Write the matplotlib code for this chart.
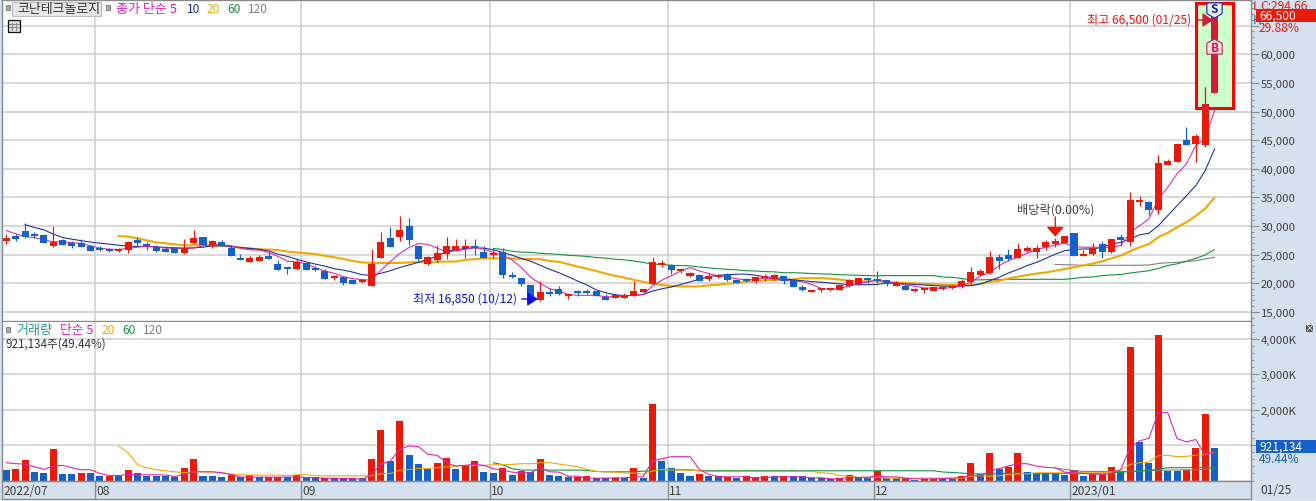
import matplotlib
matplotlib.use('Agg')
import matplotlib.pyplot as plt
from matplotlib.patches import Rectangle
from matplotlib.ticker import FixedLocator, MultipleLocator, FuncFormatter

plt.rcParams['font.family'] = ['Noto Sans CJK KR', 'DejaVu Sans']

# daily candles, 2022/07 - 2023/01/25
opens = [27450, 28050, 29050, 28500, 28400, 26500, 27500, 27000, 27000, 26600,
         26150, 26050, 25750, 25850, 27600, 26800, 26400, 26050, 26100, 25300,
         27000, 28000, 26750, 27300, 26200, 24500, 23750, 23900, 24750, 23350,
         22800, 22500, 23500, 22650, 22100, 20950, 21050, 20550, 20250, 19550,
         24500, 27900, 28150, 30000, 26500, 23400, 24050, 25100, 25800, 26150,
         26450, 25450, 25050, 25450, 21300, 21000, 19650, 17000, 18400, 19050,
         17850, 18600, 18600, 18600, 17650, 17450, 17450, 17800, 18400, 19900,
         23300, 23150, 22150, 21300, 21400, 20750, 21100, 21600, 20550, 20800,
         20400, 20950, 20750, 21350, 20650, 19350, 18550, 18900, 18850, 18850,
         19450, 19800, 21000, 20700, 20650, 19600, 19600, 18600, 18850, 18700,
         19150, 19150, 19550, 20300, 21400, 21800, 24550, 24900, 24350, 25650,
         25400, 26350, 26850, 27100, 28750, 24750, 25100, 26800, 25450, 28050,
         27300, 34250, 34200, 32850, 40700, 41200, 44950, 44400, 44150, 53250]
highs = [28600, 28600, 30450, 28900, 28600, 29950, 27700, 27450, 27700, 26750,
         26450, 26200, 26150, 27450, 28000, 27300, 26650, 26550, 26200, 27700,
         29300, 28000, 27600, 27550, 26650, 25100, 24800, 24900, 25400, 24050,
         22800, 24400, 23500, 23050, 22550, 21400, 21050, 20550, 20700, 25950,
         29000, 29850, 31700, 31400, 26500, 24700, 26650, 28000, 27700, 27700,
         27700, 26550, 25950, 26250, 22050, 21000, 19650, 20350, 19100, 19450,
         18250, 18850, 19050, 18700, 18150, 18150, 18350, 20350, 18950, 24550,
         24100, 23300, 22750, 22050, 21600, 21750, 21600, 21750, 20800, 20950,
         21150, 21600, 21600, 21350, 20650, 19650, 18850, 19050, 19300, 19750,
         20800, 21000, 21000, 22150, 20650, 20350, 19900, 19150, 19250, 19350,
         19600, 19700, 20750, 22900, 22500, 25650, 25200, 26000, 27050, 26600,
         26700, 27550, 27850, 28250, 28750, 25900, 27050, 27350, 27750, 28650,
         36000, 35300, 34450, 42400, 41700, 44350, 47300, 46050, 54300, 66500]
lows = [26850, 27450, 27900, 27850, 27000, 26300, 26650, 26150, 26400, 25600,
        25600, 25500, 25400, 25250, 26450, 25800, 25550, 25500, 25300, 25100,
        26800, 26750, 26150, 26450, 24800, 24000, 23700, 23900, 24200, 22350,
        21600, 22400, 22350, 22100, 20750, 20550, 19650, 19800, 20100, 19550,
        24350, 26400, 27450, 26750, 23850, 23200, 23800, 24200, 25650, 24350,
        24900, 24350, 24350, 20950, 21000, 19550, 17100, 16850, 17700, 18000,
        17300, 17800, 18050, 17700, 17100, 17350, 17450, 17800, 18400, 19900,
        22850, 21650, 21750, 21150, 20350, 20350, 20950, 20400, 20050, 20250,
        20050, 20400, 20600, 19950, 19350, 18650, 18500, 18400, 18700, 18750,
        19350, 19750, 20100, 20100, 19600, 19600, 18850, 18550, 18350, 18650,
        18900, 19000, 19250, 19900, 21350, 21700, 22500, 23950, 24350, 25550,
        24500, 25900, 26300, 27050, 24850, 24700, 25000, 24500, 25350, 26450,
        26600, 33550, 31950, 32100, 40700, 41200, 44200, 41250, 43800, 53250]
closes = [27900, 27950, 28000, 28350, 27000, 27150, 26750, 26500, 26400, 25650,
          25900, 25750, 25850, 27300, 27100, 26550, 25650, 25500, 25300, 26250,
          27900, 26750, 27350, 26450, 24800, 24150, 24450, 24600, 24250, 22350,
          22650, 23700, 22350, 22400, 20750, 21150, 20050, 19800, 20550, 23350,
          27200, 26400, 29300, 27600, 24200, 24550, 25250, 26450, 26450, 26600,
          26250, 24500, 25150, 21400, 21150, 19800, 17200, 18400, 18300, 18150,
          18000, 18500, 18400, 17700, 17100, 17900, 18000, 18600, 18950, 23700,
          23450, 22350, 22400, 21800, 20400, 21250, 21450, 20550, 20050, 20400,
          21100, 21100, 21500, 20400, 19400, 18850, 18850, 19050, 19100, 19650,
          20550, 21000, 20550, 20350, 19850, 20050, 18900, 19000, 19000, 19300,
          19300, 19550, 20350, 21900, 22150, 24600, 23900, 24250, 26000, 26100,
          26100, 27200, 27400, 28250, 24850, 25100, 26250, 25450, 27750, 27550,
          34550, 34550, 32850, 41000, 41350, 44350, 44200, 45700, 51300, 66500]

# price moving averages, each starts where it appears
ma5 = [29200, 28650, 28150, 28000, 27600, 27250, 27250, 27100, 26950, 26550,
       26150, 25950, 25900, 26100, 26300, 26500, 26300, 26150, 26100, 26100,
       26150, 26550, 26750, 26750, 26550, 26100, 25850, 25800, 25400, 24700,
       23850, 23750, 23400, 22750, 22150, 21750, 21150, 20800, 20650, 20550,
       22300, 23800, 25200, 26250, 26950, 26800, 26150, 25500, 25650, 25950,
       26250, 25950, 25400, 24900, 24100, 22750, 21000, 20000, 19050, 18650,
       18050, 17900, 17900, 17900, 17650, 17650, 17800, 17900, 18050, 19550,
       20550, 21300, 22150, 22750, 22150, 21700, 21300, 21100, 20800, 20600,
       20800, 20900, 20800, 20550, 20400, 20300, 19800, 19100, 18950, 19100,
       19550, 20000, 20250, 20700, 20150, 20050, 19700, 19500, 19200, 19150,
       19150, 19250, 19600, 20150, 21350, 21800, 23100, 23950, 24550, 25250,
       25900, 26300, 26700, 27000, 26450, 26300, 26300, 26300, 26300, 26600,
       28900, 30050, 31250, 34700, 36750, 39100, 40850, 44050, 45200, 50150]
ma10 = [30250, 29750, 29350, 28600, 28000, 27700, 27450, 27200,
        27000, 26850, 26650, 26500, 26450, 26450, 26400, 26250, 26200, 26150,
        26200, 26300, 26550, 26550, 26450, 26250, 26100, 25950, 25650, 25100,
        24700, 24200, 23750, 23350, 23000, 22550, 22300, 21950, 21500, 21400,
        21750, 22200, 22750, 23200, 23650, 24200, 24700, 25600, 25850, 26100,
        26200, 26150, 25850, 25400, 24900, 24350, 23850, 23150, 22450, 21850,
        21150, 20400, 19700, 18850, 18350, 18000, 17850, 17900, 18050, 18650,
        19050, 19350, 19800, 20250, 20700, 21150, 21400, 21500, 21600, 21600,
        21400, 21150, 21000, 20800, 20600, 20450, 20300, 20200, 20050, 19900,
        19750, 19750, 19750, 19800, 20050, 20050, 19900, 19800, 19700, 19600,
        19500, 19500, 19500, 19600, 19900, 20450, 21050, 21800, 22400, 23100,
        23650, 24350, 25100, 25700, 25900, 26000, 26000, 26300, 26850, 27150,
        27750, 28450, 28750, 30050, 31800, 33550, 35300, 37050, 39650, 43450]
ma20 = [28250, 28150, 27850, 27500, 27150, 27000, 26800, 26650,
        26650, 26650, 26550, 26550, 26400, 26200, 26100, 25950, 25900, 25800,
        25550, 25400, 25250, 25100, 24800, 24550, 24250, 23900, 23650, 23550,
        23550, 23550, 23550, 23650, 23750, 23750, 23750, 23800, 23800, 24100,
        24200, 24350, 24350, 24350, 24350, 24250, 24250, 24200, 23900, 23750,
        23350, 22900, 22550, 22150, 21700, 21300, 21000, 20600, 20250, 19950,
        19700, 19550, 19450, 19450, 19450, 19650, 19750, 19950, 20000, 20300,
        20400, 20550, 20600, 20600, 20700, 20900, 20900, 20900, 20800, 20650,
        20450, 20400, 20350, 20350, 20250, 20150, 20050, 20000, 19900, 19850,
        19750, 19700, 19700, 19700, 19850, 20250, 20450, 20850, 21150, 21450,
        21700, 21900, 22200, 22500, 22800, 23100, 23450, 23850, 24350, 24850,
        25600, 26300, 26850, 28050, 28800, 29800, 30650, 31800, 33000, 34950]
ma60 = [26100, 25900, 25600, 25450, 25400, 25250, 25150, 25050,
        24900, 24800, 24700, 24500, 24400, 24200, 24100, 23900, 23650, 23350,
        23300, 23150, 23100, 23050, 22850, 22700, 22550, 22450, 22350, 22200,
        22150, 22050, 22000, 21850, 21850, 21800, 21700, 21650, 21600, 21500,
        21450, 21400, 21350, 21300, 21350, 21350, 21350, 21350, 21350, 21350,
        21100, 21050, 20850, 20600, 20600, 20650, 20650, 20700, 20700, 20700,
        20700, 20700, 20700, 20700, 20850, 21050, 21100, 21350, 21450, 21550,
        21800, 22000, 22200, 22600, 23100, 23400, 23850, 24350, 24950, 25900]
ma120 = [23300, 23250, 23200, 23150, 23150, 23150, 23150, 23150, 23150, 23150,
         23200, 23450, 23600, 23650, 23800, 23950, 24250, 24550]
ma_starts = {'ma5': 0, 'ma10': 2, 'ma20': 12, 'ma60': 52, 'ma120': 112}

# volume in thousands of shares
volumes = [284, 313, 569, 228, 199, 882, 171, 171, 199, 199,
           114, 123, 114, 284, 199, 114, 114, 114, 95, 341,
           597, 114, 114, 85, 142, 95, 142, 95, 95, 95,
           95, 142, 95, 95, 57, 57, 57, 57, 57, 597,
           1422, 540, 1678, 711, 455, 332, 483, 626, 313, 427,
           540, 228, 199, 341, 142, 256, 228, 597, 142, 114,
           85, 85, 114, 66, 66, 76, 66, 341, 57, 2161,
           540, 341, 199, 114, 171, 114, 114, 95, 57, 114,
           85, 114, 114, 114, 114, 114, 76, 76, 47, 57,
           142, 85, 57, 256, 57, 57, 57, 28, 47, 47,
           47, 47, 114, 483, 171, 768, 313, 370, 768, 228,
           199, 199, 199, 142, 284, 114, 171, 171, 370, 256,
           3783, 1081, 483, 4095, 256, 256, 284, 910, 1877, 921]
vol_flags = ('brrbbrbbrb' 'brbrbbbbbr' 'rbbbrbrbrr' 'brbbrbbbbr' 'rbrbbbrrbr'
             'rbbrbrbrbb' 'brrbbrbrbr' 'bbbbrbbrbr' 'rrbrbbbbbr' 'rbbrbbrbrr'
             'bbrrbrbrrb' 'bbbbrbrrrb' 'rbbrbbrrrb')
vol_ma5 = [502, 474, 465, 389, 313, 408, 427, 360, 303, 303,
           199, 142, 142, 171, 161, 161, 161, 152, 114, 171,
           246, 246, 246, 218, 171, 95, 95, 95, 95, 95,
           95, 95, 85, 76, 66, 66, 57, 57, 28, 171,
           455, 550, 882, 976, 957, 739, 711, 502, 408, 427,
           455, 427, 332, 294, 237, 218, 218, 360, 246, 237,
           123, 123, 66, 66, 66, 76, 76, 95, 104, 550,
           616, 673, 673, 673, 313, 171, 114, 104, 104, 104,
           66, 95, 95, 104, 104, 104, 76, 76, 47, 47,
           95, 85, 95, 123, 104, 104, 66, 47, 47, 47,
           57, 66, 85, 142, 123, 265, 341, 408, 474, 474,
           408, 370, 360, 237, 218, 199, 180, 171, 199, 313,
           929, 1118, 1194, 1924, 1924, 1185, 1090, 1157, 711, 806]
vol_ma20 = [967, 787, 446, 360, 303, 275, 246, 218,
            246, 246, 237, 218, 180, 161, 152, 152, 152, 152,
            133, 161, 161, 133, 133, 133, 133, 133, 133, 133,
            190, 199, 284, 313, 341, 341, 360, 389, 408, 427,
            427, 427, 446, 446, 455, 474, 474, 502, 502, 465,
            427, 389, 313, 256, 246, 237, 209, 209, 180, 265,
            313, 294, 294, 294, 275, 256, 256, 256, 256, 256,
            256, 256, 256, 256, 256, 256, 256, 218, 199, 142,
            114, 95, 76, 104, 66, 66, 66, 66, 66, 66,
            66, 66, 66, 123, 133, 123, 133, 171, 190, 190,
            218, 218, 218, 218, 218, 218, 218, 218, 237, 294,
            455, 502, 521, 702, 711, 673, 683, 711, 739, 787]
vol_ma60 = [502, 446, 332, 294, 294, 303, 294, 294,
            294, 294, 285, 256, 246, 246, 246, 246, 265, 270,
            294, 294, 303, 303, 275, 275, 275, 275, 275, 275,
            275, 275, 275, 275, 275, 275, 275, 275, 275, 275,
            275, 275, 275, 275, 275, 275, 275, 275, 275, 275,
            240, 228, 210, 190, 185, 180, 195, 205, 209, 200,
            190, 190, 190, 195, 199, 199, 205, 210, 218, 230,
            256, 270, 284, 320, 360, 360, 360, 370, 379, 341]
vol_ma120 = [351, 313, 284, 256, 256, 256, 256, 256, 265, 270,
             284, 284, 294, 294, 300, 303, 320, 341]

month_pos = [9.5, 31.5, 51.6, 70.6, 92.65, 113.6]
month_labels = ['08', '09', '10', '11', '12', '2023/01']
price_ticks = list(range(15000, 70000, 5000))
vol_ticks = [1000, 2000, 3000, 4000]

W, H = 1316, 502
RED, BLUE, CRIMSON = '#ea1a0a', '#1560c9', '#d71a3c'
GRID, EDGE, PANEL = '#d2d2d2', '#8a8a8a', '#d6e1ef'
MAGENTA, NAVY, ORANGE, GREEN, GRAY = '#e020b0', '#16289c', '#efa900', '#0f9440', '#808080'
TXT = '#404040'


def px_axes(x0, y0, x1, y1):
    return fig.add_axes([x0 / W, 1 - y1 / H, (x1 - x0) / W, (y1 - y0) / H])


def px_text(x, y, s, color=TXT, size=8.6, ha='left', **kw):
    return fig.text(x / W, 1 - y / H, s, color=color, fontsize=size, ha=ha, va='center', **kw)


def px_rect(x0, y0, x1, y1, **kw):
    r = Rectangle((x0 / W, 1 - y1 / H), (x1 - x0) / W, (y1 - y0) / H,
                  transform=fig.transFigure, **kw)
    fig.add_artist(r)
    return r


def draw_candles(ax, i, color, **kw):
    lo, hi = sorted([opens[i], closes[i]])
    # very small bodies still show as a two pixel bar
    if hi - lo < 350:
        mid = (hi + lo) / 2
        lo, hi = mid - 175, mid + 175
    a = ax.vlines(i, lows[i], highs[i], color=color, lw=0.85, zorder=5, **kw)
    b = ax.bar(i, hi - lo, bottom=lo, width=0.75, color=color, lw=0, zorder=5, **kw)
    return a, b


fig = plt.figure(figsize=(W / 100, H / 100), dpi=100, facecolor=PANEL)
n = len(closes)
xlim = (-0.462, 132.9)

ax = px_axes(2, 1, 1251, 322)
vax = px_axes(2, 322.5, 1251, 481.5)
dax = px_axes(2, 482, 1251, 500)

# price panel
ax.set_xlim(xlim)
ax.set_ylim(13420, 69470)
ax.set_axisbelow(True)
ax.grid(axis='y', color=GRID, lw=1.2)
ax.set_xticks(month_pos)
ax.grid(axis='x', color=GRID, lw=1.2)
ax.tick_params(axis='x', length=0, labelbottom=False)

for values, name, color, lw in [(ma120, 'ma120', GRAY, 0.8), (ma60, 'ma60', GREEN, 0.8),
                                (ma20, 'ma20', ORANGE, 1.5), (ma10, 'ma10', NAVY, 0.75),
                                (ma5, 'ma5', MAGENTA, 0.75)]:
    start = ma_starts[name]
    ax.plot(range(start, start + len(values)), values, color=color, lw=lw, zorder=3)

for i in range(n):
    draw_candles(ax, i, RED if closes[i] >= opens[i] else BLUE)

# highlighted last candle
ax.add_patch(Rectangle((127.0, 50580), 3.95, 18370, facecolor='#ccffcc', edgecolor='#fe0000',
                       lw=2.2, zorder=4))
clip = Rectangle((126.84, 50310), 4.26, 18890, transform=ax.transData)
for i in [128, 129]:
    for art in draw_candles(ax, i, CRIMSON):
        if hasattr(art, 'patches'):
            for p in art.patches:
                p.set_clip_path(clip)
                p.set_zorder(6)
        else:
            art.set_clip_path(clip)
            art.set_zorder(6)

# sell / buy flags
ax.plot(129, 67750, marker=[(-1, 1), (1, 1), (1, -0.4), (0, -1), (-1, -0.4), (-1, 1)], ms=11,
        mfc='#dff3f0', mec='#2020b0', mew=0.8, zorder=7)
ax.text(129, 67900, 'S', color='#2020b0', fontsize=8.5, ha='center', va='center', zorder=8, fontweight='bold')
ax.plot(129, 61450, marker=[(-1, -1), (1, -1), (1, 0.4), (0, 1), (-1, 0.4), (-1, -1)], ms=11,
        mfc='#fbe3e6', mec=CRIMSON, mew=0.8, zorder=7)
ax.text(129, 61200, 'B', color=CRIMSON, fontsize=8.5, ha='center', va='center', zorder=8, fontweight='bold')

# notes on the price panel
ax.annotate('', xy=(128.85, 65970), xytext=(127.2, 65970), zorder=8,
            arrowprops=dict(arrowstyle='-|>,head_width=0.3,head_length=0.45', color=CRIMSON, lw=1,
                            shrinkA=0, shrinkB=0, mutation_scale=14))
ax.text(126.5, 66100, '최고 66,500 (01/25)', color='#f01010', fontsize=8.7, ha='right', va='center', zorder=8)
ax.annotate('', xy=(56.75, 17260), xytext=(55.05, 17260), zorder=8,
            arrowprops=dict(arrowstyle='-|>,head_width=0.3,head_length=0.45', color='#1010e0', lw=1,
                            shrinkA=0, shrinkB=0, mutation_scale=14))
ax.text(54.5, 17430, '최저 16,850 (10/12)', color='#1010e0', fontsize=8.7, ha='right', va='center', zorder=8)
ax.annotate('', xy=(112, 28150), xytext=(112, 31600), zorder=8,
            arrowprops=dict(arrowstyle='-|>,head_width=0.38,head_length=0.42', color=RED, lw=1,
                            shrinkA=0, shrinkB=0, mutation_scale=14))
ax.text(112, 32950, '배당락(0.00%)', color=TXT, fontsize=8.8, ha='center', va='center', zorder=8)

# volume panel
vax.set_xlim(xlim)
vax.set_ylim(0, 4490)
vax.set_axisbelow(True)
vax.grid(axis='y', color=GRID, lw=1.2)
vax.set_xticks(month_pos)
vax.grid(axis='x', color=GRID, lw=1.2)
vax.tick_params(axis='x', length=0, labelbottom=False)
vax.bar(range(n), volumes, width=0.75, lw=0, color=[RED if f == 'r' else BLUE for f in vol_flags], zorder=2)
for values, start, color in [(vol_ma120, 112, GRAY), (vol_ma60, 52, GREEN),
                             (vol_ma20, 12, ORANGE), (vol_ma5, 0, MAGENTA)]:
    vax.plot(range(start, start + len(values)), values, color=color, lw=0.78, zorder=4)


def price_fmt(v, _):
    # the 65,000 label sits under the last value box
    return '' if v == 65000 else f'{int(v):,}'


# right hand scales
for a, ticks, minor, fmt in [(ax, price_ticks, 1000, price_fmt),
                             (vax, vol_ticks, 200, lambda v, _: f'{int(v):,}K')]:
    a.yaxis.tick_right()
    a.yaxis.set_major_locator(FixedLocator(ticks))
    a.yaxis.set_minor_locator(MultipleLocator(minor))
    a.yaxis.set_major_formatter(FuncFormatter(fmt))
    a.tick_params(axis='y', which='major', length=5.5, width=0.8, color=EDGE, labelsize=8.2,
                  labelcolor=TXT, pad=1.5)
    a.tick_params(axis='y', which='minor', length=2.5, width=0.7, color=EDGE)
    for s in a.spines.values():
        s.set_color(EDGE)
        s.set_linewidth(1.0)
    a.set_facecolor('white')
vax.spines['top'].set_visible(False)

# date strip
dax.set_xlim(xlim)
dax.set_ylim(0, 1)
dax.set_facecolor(PANEL)
dax.set_yticks([])
dax.set_xticks(month_pos)
dax.set_xticklabels([])
dax.tick_params(axis='x', length=0)
dax.grid(axis='x', color=EDGE, lw=1.0)
for s in dax.spines.values():
    s.set_color(EDGE)
    s.set_linewidth(1.0)
for p, label in zip(month_pos, month_labels):
    dax.text(p + 0.12, 0.47, label, color=TXT, fontsize=8.6, ha='left', va='center')
dax.text(-0.3, 0.47, '2022/07', color=TXT, fontsize=8.6, ha='left', va='center')
px_text(1260, 491, '01/25', size=8.6)

px_rect(0, 501, W, H, facecolor='#e6e6e6', edgecolor='none')
px_rect(0, 0, W, 1.2, facecolor='#a0a0a0', edgecolor='none')

# header of the price panel
px_rect(12, 3, 101, 16.5, facecolor='#e8e8e8', edgecolor='#bbbbbb', lw=0.8)
px_rect(5.5, 6, 10, 11, facecolor='#a8a8a8', edgecolor='#777777', lw=0.6)
px_rect(105.5, 6, 110, 11, facecolor='#a8a8a8', edgecolor='#777777', lw=0.6)
px_text(17, 9.5, '코난테크놀로지', color='#333333', size=9.3)
px_text(116, 9.5, '종가 단순 5', color=MAGENTA, size=9.4)
px_text(187, 9.5, '10', color=NAVY)
px_text(207, 9.5, '20', color=ORANGE)
px_text(227, 9.5, '60', color=GREEN)
px_text(248, 9.5, '120', color=GRAY)
px_rect(7.5, 21, 20, 33, facecolor='#dddddd', edgecolor='#111111', lw=0.9)
for gx in (11.5, 15.5):
    fig.add_artist(plt.Line2D([gx / W, gx / W], [1 - 24 / H, 1 - 31 / H], color='#888888', lw=0.7))
for gy in (25, 28):
    fig.add_artist(plt.Line2D([9 / W, 19 / W], [1 - gy / H, 1 - gy / H], color='#888888', lw=0.7))

# header of the volume panel
px_rect(5.5, 328, 10, 333, facecolor='#a8a8a8', edgecolor='#777777', lw=0.6)
px_text(16, 331, '거래량', color='#2a9a9a', size=9.4)
px_text(60, 331, '단순 5', color=MAGENTA, size=9.2)
px_text(102, 331, '20', color=ORANGE)
px_text(122, 331, '60', color=GREEN)
px_text(143, 331, '120', color=GRAY)
px_text(6, 344, '921,134주(49.44%)', color='#333333', size=8.4)
px_rect(1306, 325.5, 1313, 332.5, facecolor='#555555', edgecolor='none')
px_text(1309.5, 329, '×', color='white', size=7, ha='center')

# last value boxes
px_text(1260, 7, 'C:294.66', color='#e81a10', size=8.6)
px_text(1253, 7, 'L', color='#e81a10', size=8.6)
px_text(1252.5, 20, 'H', color='#1560c9', size=8.6)
px_rect(1256, 10, 1316, 23, facecolor='#ea1a0a', edgecolor='none', zorder=5)
px_text(1259, 16.5, '66,500', color='white', size=8.6, zorder=6)
px_text(1259, 29, '29.88%', color='#e81a10', size=8.6)
px_rect(1256, 441, 1316, 454, facecolor=BLUE, edgecolor='none', zorder=5)
px_text(1259, 447.5, '921,134', color='white', size=8.6, zorder=6)
px_text(1259, 460, '49.44%', color=BLUE, size=8.6)

fig.savefig('out.png', dpi=100, facecolor=fig.get_facecolor())
